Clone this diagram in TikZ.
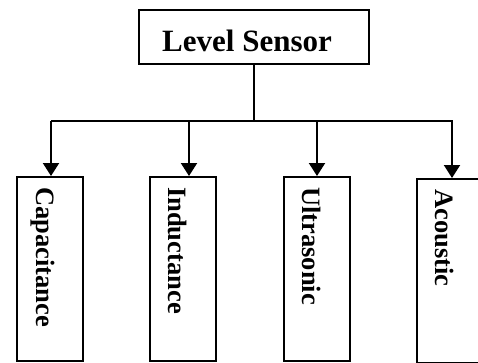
\documentclass[tikz,border=0pt]{standalone}
\usepackage{fontspec}
\setmainfont{Liberation Serif}
\usetikzlibrary{arrows.meta}
\usetikzlibrary{positioning}
\usetikzlibrary{calc}

\tikzset{
	sensorbox/.style={draw, line width=2pt, rectangle, inner sep=0pt, minimum width=66pt, minimum height=184pt, anchor=north west},
	boxlabel/.style={inner sep=0pt, rotate=-90, anchor=base west, font=\fontsize{26.5pt}{30pt}\selectfont\bfseries},
	feed/.style={line width=2pt, -{Triangle[width=16pt,length=13pt]}}
}

\begin{document}
\begin{tikzpicture}[x=1pt, y=1pt]
	\useasboundingbox (0,0) rectangle (478,362);
	
	%top box
	\node[draw, line width=2pt, rectangle, inner sep=0pt, minimum width=230pt, minimum height=54pt] (sensor) at (254,325) {};
	\node[inner sep=0pt, anchor=base, font=\fontsize{31pt}{36pt}\selectfont\bfseries] (sensorL) at (247,310) {Level Sensor};
	
	%boxes
	\node[sensorbox] (cap) at (16,186) {};
	\node[sensorbox] (ind) at (149,186) {};
	\node[sensorbox] (ult) at (283,186) {};
	\node[sensorbox] (aco) at (416,184) {};
	
	%labels
	\node[boxlabel] (capL) at (36,175) {Capacitance};
	\node[boxlabel] (indL) at (168,175) {Inductance};
	\node[boxlabel] (ultL) at (302,175) {Ultrasonic};
	\node[boxlabel] (acoL) at (435,173) {Acoustic};
	
	%bus
	\coordinate (busL) at (51,241);
	\coordinate (busR) at (453,241);
	\draw[line width=2pt] (sensor.south) -- (sensor.south |- busL);
	\draw[line width=2pt] (busL) -- (busR);
	
	%arrows
	\foreach \x/\b in {51/cap,189/ind,317/ult,452/aco}
		\draw[feed] (\x,241) -- (\x,241 |- \b.north);
\end{tikzpicture}
\end{document}
